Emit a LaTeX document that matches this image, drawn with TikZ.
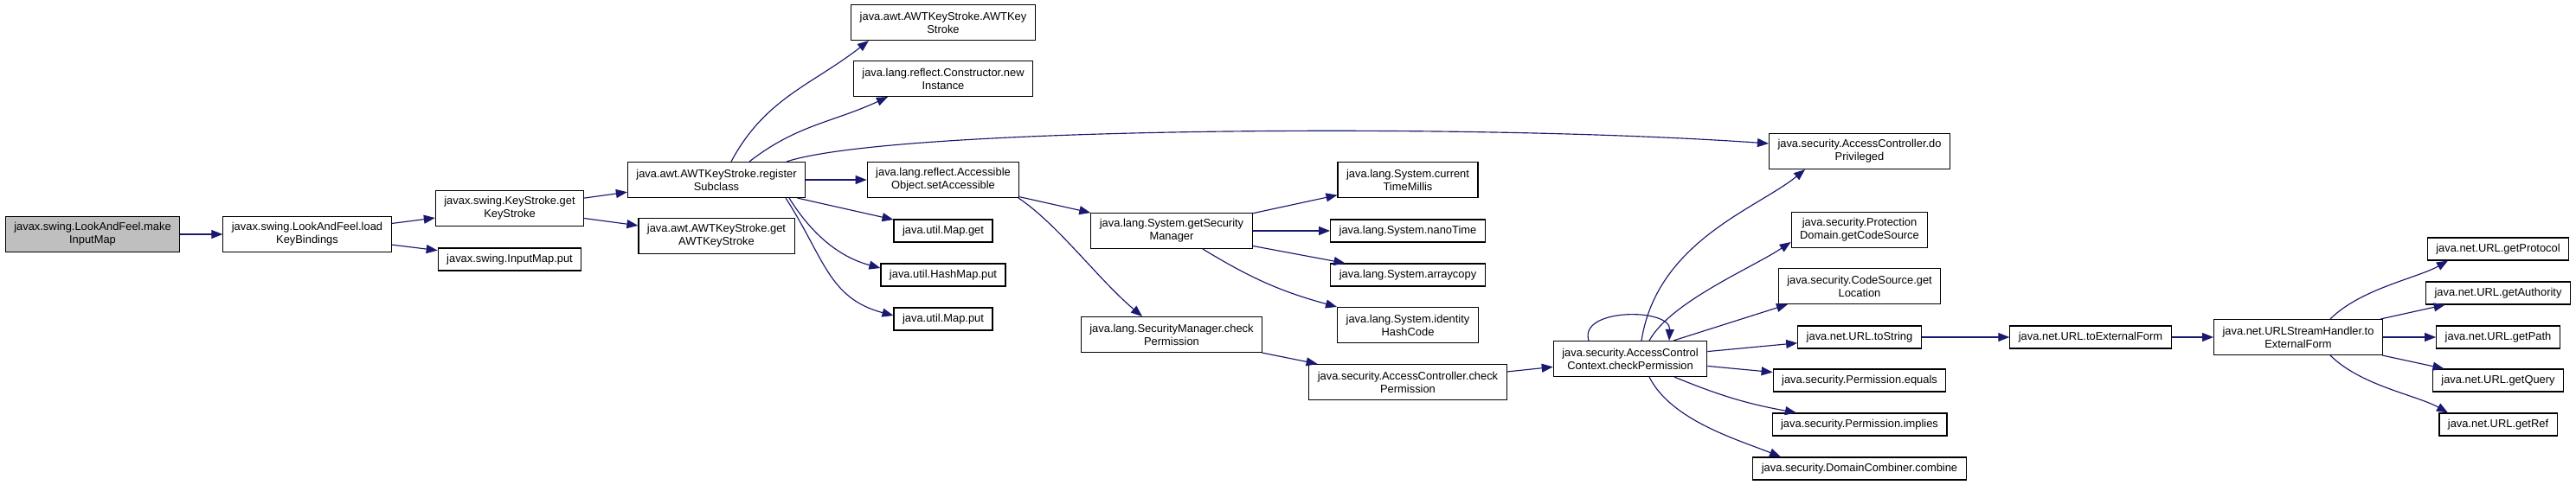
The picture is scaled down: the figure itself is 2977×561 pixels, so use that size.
\documentclass[tikz,border=0pt]{standalone}
\usepackage{fontspec}
\setmainfont{Liberation Sans}
\usepackage{xcolor}
\usepackage{tikz}
\usetikzlibrary{arrows.meta,positioning}
\definecolor{callEdge}{HTML}{191970}
\definecolor{callRoot}{HTML}{BFBFBF}

\begin{document}
\begin{tikzpicture}[
  on grid,
  box/.style={rectangle,draw=black,fill=white,line width=1.1pt,align=center,minimum height=26pt,inner xsep=10pt,inner ysep=2pt,font=\fontsize{12.9}{15}\selectfont},
  twoline/.style={box,minimum height=41pt},
  arrow/.style={-{Triangle[length=13pt,width=10pt]},line width=1.15pt,color=callEdge}
]
\useasboundingbox (0,0) rectangle (2977pt,-561pt);
\node[twoline,fill=callRoot] (mk) at (107pt,-271pt) {javax.swing.LookAndFeel.make\\InputMap};
\node[twoline,right=248pt of mk] (lkb) {javax.swing.LookAndFeel.load\\KeyBindings};
\node[twoline,above right=30pt and 234pt of lkb] (gks) {javax.swing.KeyStroke.get\\KeyStroke};
\node[box,below=59pt of gks] (imp) {javax.swing.InputMap.put};
\node[twoline,above right=33pt and 239pt of gks] (reg) {java.awt.AWTKeyStroke.register\\Subclass};
\node[twoline,below=65pt of reg] (gawt) {java.awt.AWTKeyStroke.get\\AWTKeyStroke};
\node[twoline,right=262pt of reg] (acc) {java.lang.reflect.Accessible\\Object.setAccessible};
\node[twoline,above=117pt of acc] (newi) {java.lang.reflect.Constructor.new\\Instance};
\node[twoline,above=65pt of newi] (awt) {java.awt.AWTKeyStroke.AWTKey\\Stroke};
\node[box,below=59pt of acc] (mget) {java.util.Map.get};
\node[box,below=51pt of mget] (hput) {java.util.HashMap.put};
\node[box,below=51pt of hput] (mput) {java.util.Map.put};
\node[twoline,right=264pt of mget] (gsm) {java.lang.System.getSecurity\\Manager};
\node[twoline,below=120pt of gsm] (smcp) {java.lang.SecurityManager.check\\Permission};
\node[twoline,right=537pt of acc] (ctm) {java.lang.System.current\\TimeMillis};
\node[box,right=273pt of gsm] (nano) {java.lang.System.nanoTime};
\node[box,below=51pt of nano] (acopy) {java.lang.System.arraycopy};
\node[twoline,below=58pt of acopy] (ihc) {java.lang.System.identity\\HashCode};
\node[twoline,below=66pt of ihc] (accp) {java.security.AccessController.check\\Permission};
\node[twoline,above right=27pt and 257pt of accp] (actx) {java.security.AccessControl\\Context.checkPermission};
\node[box,above right=25pt and 265pt of actx] (tostr) {java.net.URL.toString};
\node[twoline,above=59pt of tostr] (csloc) {java.security.CodeSource.get\\Location};
\node[twoline,above=124pt of tostr] (pdom) {java.security.Protection\\Domain.getCodeSource};
\node[twoline,above=91pt of pdom] (dopriv) {java.security.AccessController.do\\Privileged};
\node[box,below=50pt of tostr] (peq) {java.security.Permission.equals};
\node[box,below=51pt of peq] (pimp) {java.security.Permission.implies};
\node[box,below=51pt of pimp] (dcomb) {java.security.DomainCombiner.combine};
\node[box,right=267pt of tostr] (tef) {java.net.URL.toExternalForm};
\node[twoline,right=240pt of tef] (ushef) {java.net.URLStreamHandler.to\\ExternalForm};
\node[box,right=231pt of ushef] (gpath) {java.net.URL.getPath};
\node[box,above=51pt of gpath] (gauth) {java.net.URL.getAuthority};
\node[box,above=51pt of gauth] (gprot) {java.net.URL.getProtocol};
\node[box,below=50pt of gpath] (gquery) {java.net.URL.getQuery};
\node[box,below=51pt of gquery] (gref) {java.net.URL.getRef};
\draw[arrow] (mk) -- (lkb);
\draw[arrow] (lkb) -- (gks);
\draw[arrow] (lkb) -- (imp);
\draw[arrow] (gks) -- (reg);
\draw[arrow] (gks) -- (gawt);
\draw[arrow] ([xshift=17pt]reg.north) to[out=62,in=218] ([xshift=-86pt]awt.south);
\draw[arrow] ([xshift=38pt]reg.north) to[out=38,in=205] ([xshift=-64pt]newi.south);
\draw[arrow] ([xshift=81pt]reg.north) .. controls +(121pt,40pt) and +(-342pt,24pt) .. ([yshift=9pt]dopriv.west);
\draw[arrow] (reg) -- (acc);
\draw[arrow] (reg) -- (mget);
\draw[arrow] ([xshift=84pt]reg.south) .. controls +(28pt,-45pt) and +(-45pt,12pt) .. ([yshift=8pt]hput.west);
\draw[arrow] ([xshift=80pt]reg.south) .. controls +(45pt,-70pt) and +(-75pt,20pt) .. ([yshift=4pt]mput.west);
\draw[arrow] (acc) -- (gsm);
\draw[arrow] ([xshift=87pt]acc.south) .. controls +(45pt,-30pt) and +(-50pt,42pt) .. ([xshift=-34pt]smcp.north);
\draw[arrow] (gsm) -- (ctm);
\draw[arrow] (gsm) -- (nano);
\draw[arrow] (gsm) -- (acopy);
\draw[arrow] ([xshift=36pt]gsm.south) to[bend right=8] ([xshift=-82pt]ihc.north);
\draw[arrow] (smcp) -- (accp);
\draw[arrow] (accp) -- (actx);
\draw[arrow] ([xshift=-48pt]actx.north) .. controls +(-12pt,38pt) and +(2pt,38pt) .. ([xshift=45pt]actx.north);
\draw[arrow] ([xshift=13pt]actx.north) .. controls +(18pt,115pt) and +(-55pt,-45pt) .. ([xshift=-63pt]dopriv.south);
\draw[arrow] ([xshift=22pt]actx.north) .. controls +(25pt,45pt) and +(-45pt,-30pt) .. ([yshift=-14pt]pdom.west);
\draw[arrow] ([xshift=50pt]actx.north) -- ([xshift=-83pt]csloc.south);
\draw[arrow] (actx) -- (tostr);
\draw[arrow] (actx) -- (peq);
\draw[arrow] ([xshift=51pt]actx.south) to[bend right=6] ([xshift=-73pt]pimp.north);
\draw[arrow] ([xshift=22pt]actx.south) .. controls +(25pt,-50pt) and +(-50pt,20pt) .. ([xshift=-91pt]dcomb.north);
\draw[arrow] (tostr) -- (tef);
\draw[arrow] (tef) -- (ushef);
\draw[arrow] ([xshift=37pt]ushef.north) .. controls +(35pt,35pt) and +(-35pt,-20pt) .. ([xshift=-58pt]gprot.south);
\draw[arrow] (ushef) -- (gauth);
\draw[arrow] (ushef) -- (gpath);
\draw[arrow] (ushef) -- (gquery);
\draw[arrow] ([xshift=37pt]ushef.south) .. controls +(35pt,-35pt) and +(-35pt,20pt) .. ([xshift=-58pt]gref.north);
\end{tikzpicture}
\end{document}
